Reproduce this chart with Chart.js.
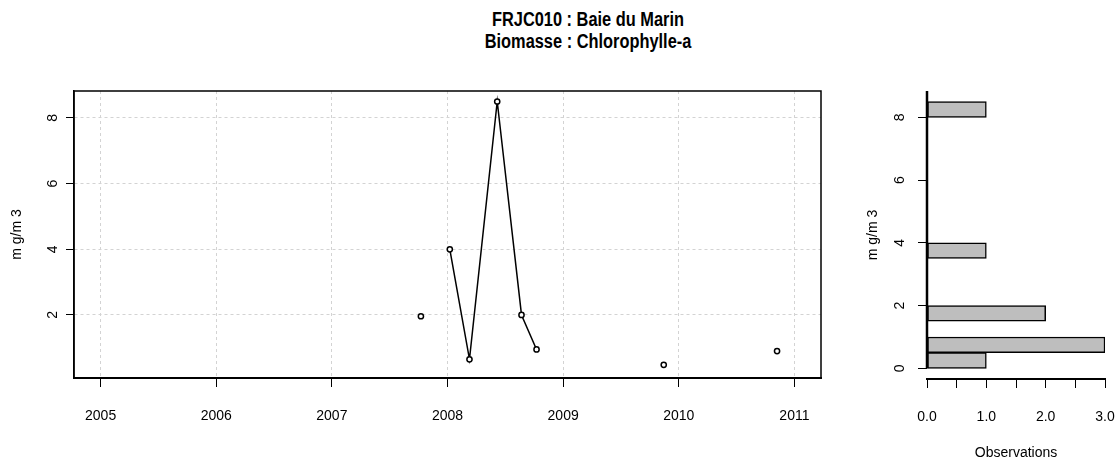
<!DOCTYPE html>
<html>
<head>
<meta charset="utf-8">
<script src="https://cdn.jsdelivr.net/npm/chart.js@4"></script>
<style>
  html, body { margin: 0; padding: 0; background: #fff; }
  body { width: 1118px; height: 466px; position: relative; overflow: hidden; }
  #title { position: absolute; left: 338px; top: 8px; width: 500px; text-align: center;
           font-family: "Liberation Sans", Arial, sans-serif;
           font-weight: bold; font-size: 19.5px; line-height: 22px; color: #000;
           transform: scaleX(0.84); transform-origin: 250px 0; }
  #left { position: absolute; left: 0; top: 0; width: 860px; height: 466px; }
  #right { position: absolute; left: 860px; top: 0; width: 258px; height: 466px; }
</style>
</head>
<body>
<div id="title">FRJC010 : Baie du Marin<br>Biomasse : Chlorophylle-a</div>
<div id="left"><canvas id="series"></canvas></div>
<div id="right"><canvas id="hist"></canvas></div>
<script>
// chlorophyll-a, FRJC010 Baie du Marin (null = break in the line, like R's NA)
const sampleDates = [2007.77, null, 2008.02, 2008.19, 2008.43, 2008.64, 2008.77, null, 2009.87, null, 2010.85];
const chlaValues  = [1.96,    null, 4.0,     0.65,    8.5,     2.0,     0.95,    null, 0.48,    null, 0.9];
const yearTicks = [2005, 2006, 2007, 2008, 2009, 2010, 2011];
const concTicks = [2, 4, 6, 8];

// histogram of the same values (bins of 0.5 mg/m3)
const binStarts = [0, 0.5, 1.5, 3.5, 8.0];
const binCounts = [1, 3, 2, 1, 1];
const binWidth = 0.5;
const histConcTicks = [0, 2, 4, 6, 8];
const countTicks = [0, 0.5, 1, 1.5, 2, 2.5, 3];

const family = '"Liberation Sans", Arial, sans-serif';
const tickFont = { family: family, size: 14 };

// fixed axis sizes so the plot areas land where R put them
const fixWidth = w => s => { s.width = w; s.paddingTop = 0; s.paddingBottom = 0; };
const fixHeight = h => s => { s.height = h; s.paddingLeft = 0; s.paddingRight = 0; };
const setTicks = list => s => { s.ticks = list.map(v => ({ value: v })); };

const box = {
  id: 'box',
  afterDatasetsDraw(chart) {
    const a = chart.chartArea, ctx = chart.ctx;
    ctx.save();
    ctx.strokeStyle = '#000';
    ctx.lineWidth = 1.5;
    ctx.strokeRect(a.left, a.top, a.right - a.left, a.bottom - a.top);
    ctx.restore();
  }
};

const zeroLine = {
  id: 'zeroLine',
  afterDatasetsDraw(chart) {
    const { x, y } = chart.scales, ctx = chart.ctx;
    const px = x.getPixelForValue(0);
    ctx.save();
    ctx.strokeStyle = '#000';
    ctx.lineWidth = 2.5;
    ctx.beginPath();
    ctx.moveTo(px, y.getPixelForValue(0));
    ctx.lineTo(px, chart.chartArea.top);
    ctx.stroke();
    ctx.restore();
  }
};

Chart.defaults.color = '#000';
Chart.defaults.font.family = family;

new Chart(document.getElementById('series'), {
  type: 'scatter',
  data: {
    datasets: [{
      data: sampleDates.map((d, i) => ({ x: d, y: chlaValues[i] })),
      showLine: true,
      spanGaps: false,
      borderColor: '#000',
      borderWidth: 1.5,
      pointRadius: 2.6,
      pointBorderWidth: 1.5,
      pointBorderColor: '#000',
      pointBackgroundColor: '#fff'
    }]
  },
  options: {
    responsive: true,
    maintainAspectRatio: false,
    animation: false,
    layout: { padding: { top: 91, right: 39, left: 0, bottom: 0 } },
    plugins: { legend: { display: false }, tooltip: { enabled: false } },
    scales: {
      x: {
        type: 'linear', min: 2004.77, max: 2011.23,
        afterBuildTicks: setTicks(yearTicks),
        afterFit: fixHeight(88),
        ticks: { autoSkip: false, maxRotation: 0, padding: 21, font: tickFont, callback: v => String(v) },
        grid: { color: '#d3d3d3', lineWidth: 1, tickColor: '#000', tickLength: 9, tickWidth: 1, tickBorderDash: [] },
        border: { color: '#000', width: 2, dash: [3, 3] }
      },
      y: {
        type: 'linear', min: 0.08, max: 8.82,
        afterBuildTicks: setTicks(concTicks),
        afterFit: fixWidth(74),
        ticks: { minRotation: 90, maxRotation: 90, crossAlign: 'center', padding: 9, font: tickFont },
        title: { display: true, text: 'm g/m 3', font: tickFont, padding: { top: 9, bottom: 0 } },
        grid: { color: '#d3d3d3', lineWidth: 1, tickColor: '#000', tickLength: 8, tickWidth: 1, tickBorderDash: [] },
        border: { color: '#000', width: 1.5, dash: [3, 3] }
      }
    }
  },
  plugins: [box]
});

new Chart(document.getElementById('hist'), {
  type: 'bar',
  data: {
    datasets: [{
      data: binStarts.map((b, i) => ({ y: b + binWidth / 2, x: binCounts[i] })),
      backgroundColor: '#bebebe',
      borderColor: '#000',
      borderWidth: 1.5,
      borderSkipped: false,
      barPercentage: 1,
      categoryPercentage: 1
    }]
  },
  options: {
    indexAxis: 'y',
    responsive: true,
    maintainAspectRatio: false,
    animation: false,
    layout: { padding: { top: 91, right: 13, left: 0, bottom: 0 } },
    plugins: { legend: { display: false }, tooltip: { enabled: false } },
    scales: {
      x: {
        type: 'linear', min: 0, max: 3,
        afterBuildTicks: setTicks(countTicks),
        afterFit: fixHeight(87),
        ticks: { autoSkip: false, maxRotation: 0, padding: 21, font: tickFont,
                 callback: v => Number.isInteger(v) ? v.toFixed(1) : '' },
        title: { display: true, text: 'Observations', font: tickFont, padding: { top: 0, bottom: 4 } },
        grid: { drawOnChartArea: false, tickColor: '#000', tickLength: 9, tickWidth: 1 },
        border: { color: '#000', width: 2 }
      },
      y: {
        type: 'linear', min: -0.34, max: 8.84, offset: false,
        afterBuildTicks: setTicks(histConcTicks),
        afterFit: fixWidth(67),
        ticks: { minRotation: 90, maxRotation: 90, crossAlign: 'center', padding: 14, font: tickFont },
        title: { display: true, text: 'm g/m 3', font: tickFont, padding: { top: 5, bottom: 0 } },
        grid: { drawOnChartArea: false, offset: false, tickColor: '#000', tickLength: 9, tickWidth: 1 },
        border: { display: false }
      }
    }
  },
  plugins: [zeroLine]
});
</script>
</body>
</html>
